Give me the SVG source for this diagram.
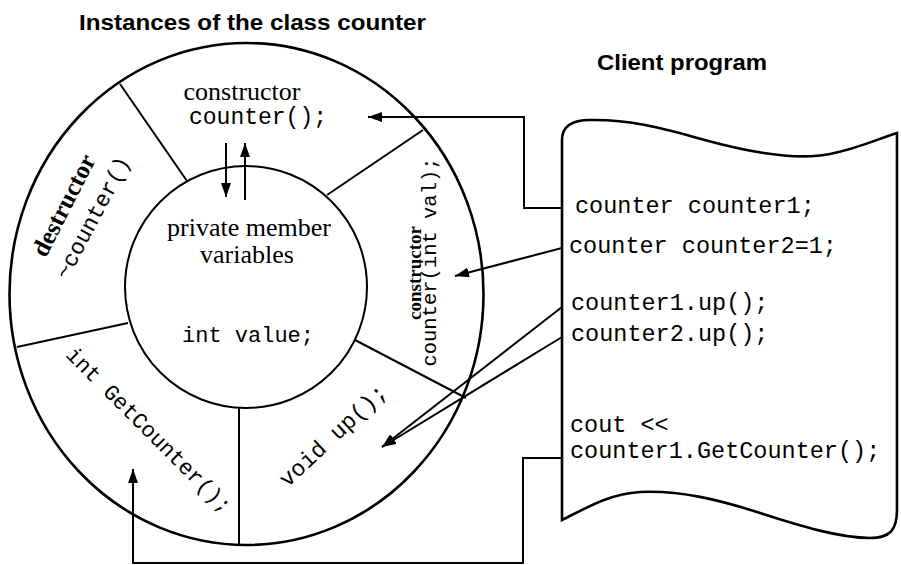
<svg xmlns="http://www.w3.org/2000/svg" width="901" height="565" viewBox="0 0 901 565">
<defs>
<style>
.ln{fill:none;stroke:#000;stroke-width:2}
.thick{fill:none;stroke:#000;stroke-width:2.6}
.sans{font-family:"Liberation Sans",Arial,sans-serif;font-weight:bold;fill:#000}
.serif{font-family:"Liberation Serif","Times New Roman",serif;fill:#000}
.mono{font-family:"Liberation Mono","Courier New",monospace;fill:#000}
</style>
<marker id="ah" markerUnits="userSpaceOnUse" markerWidth="14" markerHeight="10" refX="14" refY="5" orient="auto">
<path d="M0,0 L14,5 L0,10 z" fill="#000"/>
</marker>
</defs>
<rect width="901" height="565" fill="#fff"/>

<text class="sans" x="79" y="30" font-size="22" textLength="347" lengthAdjust="spacingAndGlyphs">Instances of the class counter</text>
<text class="sans" x="597" y="70" font-size="22" textLength="170" lengthAdjust="spacingAndGlyphs">Client program</text>

<g id="object">
<ellipse class="thick" cx="246.5" cy="294" rx="237" ry="251"/>
<line class="ln" x1="120" y1="84" x2="187" y2="181"/>
<line class="ln" x1="423" y1="130" x2="327" y2="195"/>
<line class="ln" x1="17" y1="347" x2="128" y2="323"/>
<line class="ln" x1="355" y1="340" x2="466" y2="398"/>
<line class="ln" x1="239" y1="408" x2="239" y2="545"/>
</g>

<g id="private">
<circle class="ln" cx="246" cy="287" r="121"/>
<text class="serif" x="249" y="236" font-size="26" text-anchor="middle">private member</text>
<text class="serif" x="247" y="263" font-size="26" text-anchor="middle">variables</text>
<text class="mono" x="248" y="342" font-size="22" text-anchor="middle">int value;</text>
</g>

<g id="ctor-default">
<text class="serif" x="242" y="100" font-size="26" text-anchor="middle">constructor</text>
<text class="mono" x="258" y="124" font-size="23" text-anchor="middle">counter();</text>
</g>

<g id="dtor">
<text class="serif" font-weight="bold" font-size="25" text-anchor="middle" transform="translate(71,209) rotate(-63)">destructor</text>
<text class="mono" font-size="22.5" text-anchor="middle" transform="translate(99,221) rotate(-62)">~counter()</text>
</g>

<g id="ctor-int">
<text class="serif" font-weight="bold" font-size="19" text-anchor="middle" transform="translate(421,273) rotate(-90)">constructor</text>
<text class="mono" font-size="20.5" text-anchor="middle" transform="translate(436,262) rotate(-90)">counter(int val);</text>
</g>

<g id="up">
<text class="mono" font-size="23" text-anchor="middle" transform="translate(338,441) rotate(-43)">void up();</text>
</g>

<g id="getcounter">
<text class="mono" font-size="22" text-anchor="middle" transform="translate(144,435) rotate(45)">int GetCounter();</text>
</g>

<g id="client">
<path class="thick" d="M562,520 L562,140 C562,128 570,120 590,120 C640,119 680,134 720,144 C760,154 800,160 830,154 C860,148 880,138 897,133 L897,510 C897,530 890,538 870,538 C840,538 800,526 760,513 C720,500 680,490 640,492 C610,494 590,506 562,520 Z"/>
<text class="mono" x="575" y="213" font-size="23.5">counter counter1;</text>
<text class="mono" x="569" y="253" font-size="23.5">counter counter2=1;</text>
<text class="mono" x="571" y="310" font-size="23.5">counter1.up();</text>
<text class="mono" x="571" y="341" font-size="23.5">counter2.up();</text>
<text class="mono" x="570" y="432" font-size="23.5">cout &lt;&lt;</text>
<text class="mono" x="570" y="458" font-size="23.5">counter1.GetCounter();</text>
</g>

<g id="connectors">
<line class="ln" x1="226" y1="143" x2="226" y2="197" marker-end="url(#ah)"/>
<line class="ln" x1="245" y1="200" x2="245" y2="143" marker-end="url(#ah)"/>
<polyline class="ln" points="562,208 524,208 524,117 368,117" marker-end="url(#ah)"/>
<line class="ln" x1="562" y1="248" x2="455" y2="276" marker-end="url(#ah)"/>
<line class="ln" x1="562" y1="307" x2="382" y2="447" marker-end="url(#ah)"/>
<line class="ln" x1="562" y1="337" x2="382" y2="447" marker-end="url(#ah)"/>
<polyline class="ln" points="562,458 523,458 523,563 133,563 133,469" marker-end="url(#ah)"/>
</g>
</svg>
